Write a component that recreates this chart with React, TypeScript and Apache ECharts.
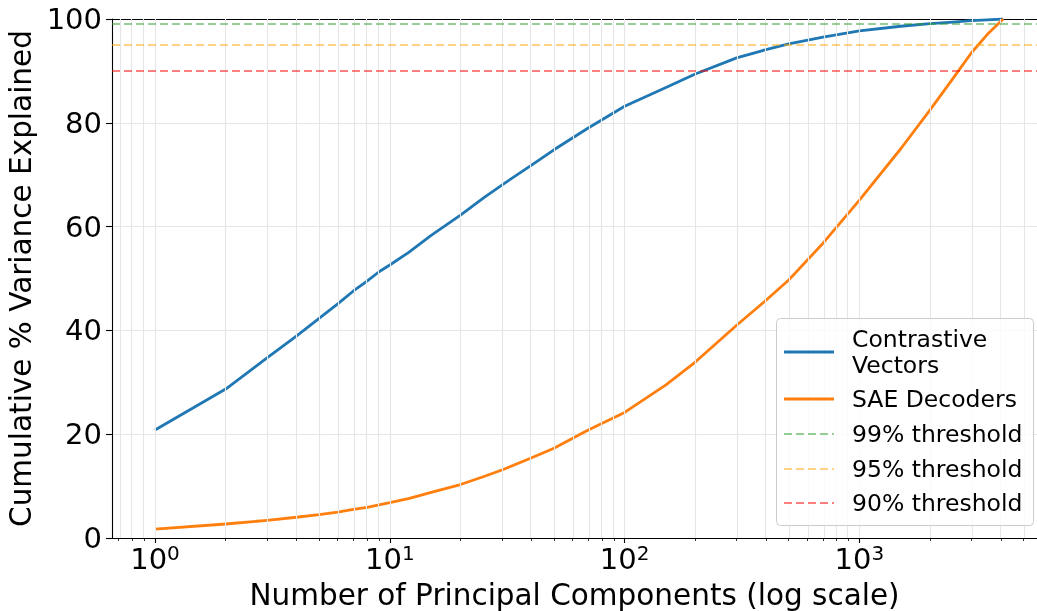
import React, { useEffect, useRef } from "react";
import * as echarts from "echarts";

// Number of principal components (x values, log scale)
const COMPONENTS = [1, 2, 3, 4, 5, 6, 7, 8, 9, 10, 12, 15, 20, 25, 30, 40, 50, 70, 100, 150, 200, 300, 400, 500, 700, 1000, 1500, 2000, 2500, 3000, 3500, 4096];
// Cumulative % variance explained
const CONTRASTIVE = [20.8, 28.7, 34.7, 38.9, 42.3, 45.1, 47.6, 49.5, 51.3, 52.6, 55.0, 58.3, 62.2, 65.5, 68.0, 71.8, 74.8, 79.0, 83.2, 86.8, 89.4, 92.5, 94.1, 95.2, 96.5, 97.7, 98.6, 99.1, 99.4, 99.7, 99.85, 100];
const SAE = [1.7, 2.7, 3.4, 4.0, 4.5, 5.0, 5.5, 5.9, 6.4, 6.8, 7.6, 8.8, 10.3, 11.8, 13.1, 15.4, 17.3, 20.8, 24.2, 29.5, 33.9, 41.0, 45.8, 49.7, 56.8, 65.1, 75.0, 82.5, 88.5, 93.5, 97.0, 100];
const THRESHOLDS = [99, 95, 90];
const THRESHOLD_COLORS = ["rgba(44,160,44,0.5)", "rgba(255,165,0,0.5)", "rgba(255,0,0,0.5)"];
const MAJOR_EXP = [0, 1, 2, 3];
const MINOR_MULT = [2, 3, 4, 5, 6, 7, 8, 9];
const X_MIN = 0.656;
const X_MAX = 5705;
const Y_TICKS = [0, 20, 40, 60, 80, 100];

const FONT = "DejaVu Sans";

export default function App() {
  const ref = useRef<HTMLDivElement>(null);
  useEffect(() => {
    if (!ref.current) return;
    const chart = echarts.init(ref.current, undefined, { renderer: "svg" });
    const lmin = Math.log10(X_MIN);
    const lmax = Math.log10(X_MAX);
    const minor: number[] = [];
    for (let e = -1; e <= 3; e++) {
      for (const m of MINOR_MULT) {
        const v = Math.log10(m * Math.pow(10, e));
        if (v > lmin && v < lmax) minor.push(v);
      }
    }
    const allGrid = [...MAJOR_EXP, ...minor];
    const gridColor = "#e6e6e6";

    const legendX = 776, legendY = 318;
    const rows = [
      { y: 352, text: "Contrastive\nVectors", color: "#1f77b4", dash: false },
      { y: 399, text: "SAE Decoders", color: "#ff7f0e", dash: false },
      { y: 434, text: "99% threshold", color: THRESHOLD_COLORS[0], dash: true },
      { y: 469, text: "95% threshold", color: THRESHOLD_COLORS[1], dash: true },
      { y: 503, text: "90% threshold", color: THRESHOLD_COLORS[2], dash: true },
    ];
    const legendEls: any[] = [
      {
        type: "rect",
        shape: { x: legendX + 0.5, y: legendY + 0.5, width: 257, height: 207, r: 4 },
        style: { fill: "rgba(255,255,255,0.8)", stroke: "#cccccc", lineWidth: 1 },
        z: 100,
      },
    ];
    rows.forEach((r) => {
      legendEls.push({
        type: "line",
        shape: { x1: legendX + 8, y1: r.y, x2: legendX + 58, y2: r.y },
        style: { stroke: r.color, lineWidth: r.dash ? 2 : 2.8, lineDash: r.dash ? [8, 4] : null },
        z: 101,
      });
      legendEls.push({
        type: "text",
        x: legendX + 76,
        y: r.y,
        style: {
          text: r.text,
          font: `23.5px '${FONT}'`,
          fill: "#000",
          verticalAlign: "middle",
          align: "left",
          lineHeight: 26,
        },
        z: 101,
      });
    });

    chart.setOption({
      animation: false,
      grid: { left: 112, right: 0, top: 19, bottom: 73, containLabel: false, outerBoundsMode: "none" },
      xAxis: [
        {
          type: "value",
          min: lmin,
          max: lmax,
          position: "bottom",
          name: "Number of Principal Components (log scale)",
          nameLocation: "middle",
          nameGap: 42,
          nameTextStyle: { fontFamily: FONT, fontSize: 29.5, color: "#000" },
          axisLine: { show: true, onZero: false, lineStyle: { color: "#000", width: 1.1 } },
          axisTick: { show: true, customValues: MAJOR_EXP, length: 5, lineStyle: { color: "#000", width: 1.1 } },
          axisLabel: {
            customValues: MAJOR_EXP,
            margin: 5,
            formatter: (v: number) => `{b|10}{s|${Math.round(v)}}`,
            rich: {
              b: { fontFamily: FONT, fontSize: 29, color: "#000", lineHeight: 30, verticalAlign: "bottom" },
              s: { fontFamily: FONT, fontSize: 20, color: "#000", lineHeight: 20, verticalAlign: "top" },
            },
          },
          splitLine: { show: false },
        },
        {
          type: "value",
          min: lmin,
          max: lmax,
          position: "bottom",
          axisLine: { show: false, onZero: false },
          axisTick: { show: true, customValues: minor, length: 3, lineStyle: { color: "#000", width: 0.8 } },
          axisLabel: { show: false },
          splitLine: { show: false },
        },
        {
          type: "value",
          min: lmin,
          max: lmax,
          position: "top",
          axisLine: { show: true, onZero: false, lineStyle: { color: "#000", width: 1.1 } },
          axisTick: { show: false },
          axisLabel: { show: false },
          splitLine: { show: false },
        },
      ],
      yAxis: {
        type: "value",
        min: 0,
        max: 100,
        interval: 20,
        name: "Cumulative % Variance Explained",
        nameLocation: "middle",
        nameGap: 62,
        nameTextStyle: { fontFamily: FONT, fontSize: 29.5, color: "#000" },
        axisLine: { show: true, onZero: false, lineStyle: { color: "#000", width: 1.1 } },
        axisTick: { show: true, length: 6, lineStyle: { color: "#000", width: 1.1 } },
        axisLabel: {
          fontFamily: FONT,
          fontSize: 29,
          color: "#000",
          margin: 10,
          formatter: (v: number) => (Y_TICKS.includes(v) ? String(v) : ""),
        },
        splitLine: { show: true, lineStyle: { color: gridColor, width: 1.1 } },
      },
      graphic: legendEls,
      series: [
        {
          name: "grid",
          type: "line",
          data: [],
          silent: true,
          z: 0,
          markLine: {
            silent: true,
            symbol: "none",
            label: { show: false },
            lineStyle: { color: gridColor, width: 1.1, type: "solid" },
            data: allGrid.map((v) => ({ xAxis: v })),
          },
        },
        {
          name: "Contrastive Vectors",
          type: "line",
          data: COMPONENTS.map((c, i) => [Math.log10(c), CONTRASTIVE[i]]),
          showSymbol: false,
          smooth: false,
          lineStyle: { color: "#1f77b4", width: 2.8, join: "round" },
          itemStyle: { color: "#1f77b4" },
          z: 3,
        },
        {
          name: "SAE Decoders",
          type: "line",
          data: COMPONENTS.map((c, i) => [Math.log10(c), SAE[i]]),
          showSymbol: false,
          smooth: false,
          lineStyle: { color: "#ff7f0e", width: 2.8, join: "round" },
          itemStyle: { color: "#ff7f0e" },
          z: 3,
        },
        ...THRESHOLDS.map((t, i) => ({
          name: `${t}% threshold`,
          type: "line",
          data: [],
          z: 4,
          markLine: {
            silent: true,
            symbol: "none",
            label: { show: false },
            lineStyle: { color: THRESHOLD_COLORS[i], width: 2, type: [8, 4] },
            data: [{ yAxis: t }],
          },
        })),
      ],
    });
    return () => chart.dispose();
  }, []);
  return <div ref={ref} style={{ position: "fixed", left: 0, top: 0, width: 1037, height: 611 }} />;
}
